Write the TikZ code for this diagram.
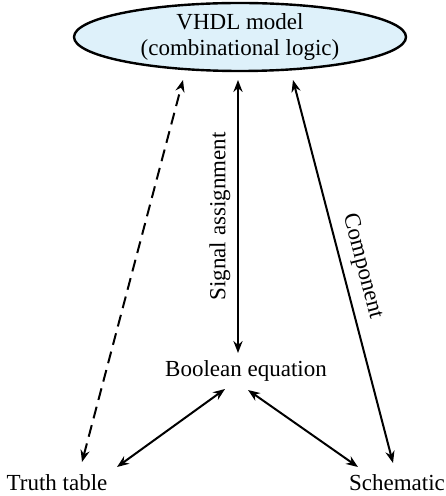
\documentclass[tikz,border=0pt]{standalone}
\usepackage{fontspec}
\setmainfont{Liberation Serif}
\usetikzlibrary{shapes.geometric, arrows.meta, calc}
\definecolor{modelblue}{RGB}{222,241,250}

\begin{document}
\begin{tikzpicture}[
    x=0.5pt, y=-0.5pt,
    >={Stealth[length=6pt, width=4.6pt, inset=2pt]},
    font=\fontsize{11.5}{13}\selectfont,
    model/.style={
      ellipse, draw=black, fill=modelblue,
      line width=1.2pt, align=center, inner sep=0pt,
      minimum width=166pt, minimum height=34pt
    },
    term/.style={inner sep=0pt, anchor=base},
    link/.style={<->, line width=1pt, black},
    guess/.style={link, dash pattern=on 6pt off 3.5pt}
  ]
    \useasboundingbox (0,0) rectangle (445,496);

    % --- VHDL model ---
    \node[model] (vhdl) at (240,37)
    {VHDL model\\(combinational logic)};

    % --- Representations ---
    \node[term] (bool) at (246,376) {Boolean equation};
    \node[term] (truth) at (57,490) {Truth table};
    \node[term] (schem) at (397,490) {Schematic};

    % --- Links to the model ---
    \draw[guess] ($(truth.base)+(25,-28)$) -- ($(vhdl.center)+(-57,43)$);
    \draw[link] ($(bool.base)+(-8,-23)$) -- ($(vhdl.center)+(-2,43)$)
      node[midway, sloped, above] {Signal assignment};
    \draw[link] ($(vhdl.center)+(53,43)$) -- ($(schem.base)+(-4,-27)$)
      node[midway, sloped, above, yshift=1pt] {Component};

    % --- Links to the equation ---
    \draw[link] ($(truth.base)+(60,-23)$) -- ($(bool.base)+(-21,13)$);
    \draw[link] ($(bool.base)+(2,14)$) -- ($(schem.base)+(-39,-23)$);

  \end{tikzpicture}
\end{document}
